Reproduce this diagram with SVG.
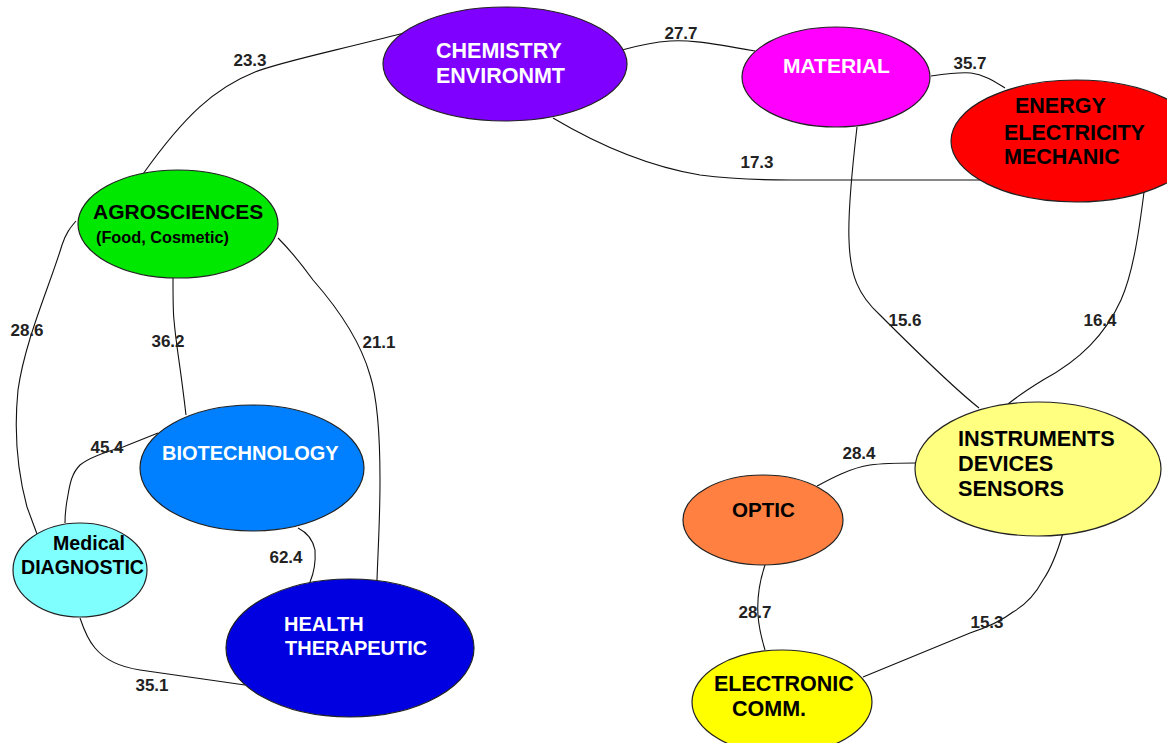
<svg xmlns="http://www.w3.org/2000/svg" width="1167" height="743" viewBox="0 0 1167 743">
  <style>
    .edge { fill: none; stroke: #111; stroke-width: 1.1; }
    .node ellipse { stroke: #222; stroke-width: 1.2; }
    .lbl { font-family: "Liberation Sans", Arial, sans-serif; font-size: 17px; font-weight: bold; fill: #222; text-anchor: middle; }
    .t { font-family: "Liberation Sans", Arial, sans-serif; font-weight: bold; }
    .w { fill: #fff; }
    .k { fill: #000; }
  </style>
  <rect width="1167" height="743" fill="#fff"/>

  <!-- connectors with their weights -->
  <g id="connectors">
    <path class="edge" d="M404,33 C330,52 280,62 255,72 C215,88 185,115 143,174"/>
    <path class="edge" d="M622,50 C640,45 655,42 670,41 C685,40 700,41 755,51"/>
    <path class="edge" d="M931,76 C945,74 960,72 971,73 C985,75 995,82 1005,88"/>
    <path class="edge" d="M553,118 C590,140 640,165 700,175 C740,180 770,180 790,180 L980,180"/>
    <path class="edge" d="M857,127 C852,170 848,215 849,240 C850,275 858,295 880,315 C910,345 950,385 979,408"/>
    <path class="edge" d="M1144,192 C1138,240 1132,275 1121,300 C1105,335 1080,360 1043,380 C1030,388 1018,396 1008,404"/>
    <path class="edge" d="M76,221 C70,228 66,233 62,245 C50,285 25,340 18,390 C14,430 17,470 27,507 L37,534"/>
    <path class="edge" d="M173,278 C173,300 173,313 174,320 C176,345 180,363 186,415"/>
    <path class="edge" d="M278,238 C290,250 300,262 313,280 C335,305 360,340 370,375 C378,400 380,440 380,480 C380,520 378,550 377,580"/>
    <path class="edge" d="M158,433 L123,447 C105,452 90,457 80,465 C72,473 70,483 68,495 C66,505 65,515 65,523"/>
    <path class="edge" d="M298,528 C308,533 313,540 315,550 C316,565 313,575 310,582"/>
    <path class="edge" d="M80,618 C84,630 88,640 95,648 C105,660 120,667 140,670 L245,685"/>
    <path class="edge" d="M817,486 C830,479 850,468 870,465 C885,463 900,463 915,463"/>
    <path class="edge" d="M765,565 C760,580 757,600 758,615 C759,630 762,640 765,650"/>
    <path class="edge" d="M1063,533 C1058,550 1050,570 1043,580 C1035,595 1025,605 1013,612 C1000,622 985,628 970,633 L863,677"/>
    <text class="lbl" x="250" y="66">23.3</text>
    <text class="lbl" x="681" y="39">27.7</text>
    <text class="lbl" x="970" y="69">35.7</text>
    <text class="lbl" x="757" y="168">17.3</text>
    <text class="lbl" x="905" y="326">15.6</text>
    <text class="lbl" x="1100" y="326">16.4</text>
    <text class="lbl" x="27" y="336">28.6</text>
    <text class="lbl" x="168" y="347">36.2</text>
    <text class="lbl" x="379" y="348">21.1</text>
    <text class="lbl" x="107" y="453">45.4</text>
    <text class="lbl" x="286" y="563">62.4</text>
    <text class="lbl" x="152" y="691">35.1</text>
    <text class="lbl" x="859" y="459">28.4</text>
    <text class="lbl" x="755" y="618">28.7</text>
    <text class="lbl" x="987" y="628">15.3</text>
  </g>

  <g id="chemistry" class="node">
    <ellipse cx="505" cy="64" rx="122" ry="57" fill="#7F00FF"/>
    <text class="t w" x="436" y="58" font-size="21.5">CHEMISTRY</text>
    <text class="t w" x="436" y="83" font-size="21.5">ENVIRONMT</text>
  </g>
  <g id="material" class="node">
    <ellipse cx="836" cy="77" rx="94" ry="50" fill="#FF00FF"/>
    <text class="t w" x="783" y="73" font-size="21">MATERIAL</text>
  </g>
  <g id="energy" class="node">
    <ellipse cx="1076" cy="141" rx="125" ry="61" fill="#FF0000"/>
    <text class="t k" x="1015" y="113" font-size="21.5">ENERGY</text>
    <text class="t k" x="1004" y="140" font-size="21.5">ELECTRICITY</text>
    <text class="t k" x="1004" y="164" font-size="21.5">MECHANIC</text>
  </g>
  <g id="agrosciences" class="node">
    <ellipse cx="178" cy="224" rx="100" ry="54" fill="#00E800"/>
    <text class="t k" x="93" y="219" font-size="21">AGROSCIENCES</text>
    <text class="t k" x="96" y="243" font-size="16.3">(Food, Cosmetic)</text>
  </g>
  <g id="biotechnology" class="node">
    <ellipse cx="252" cy="468" rx="112" ry="63" fill="#0080FF"/>
    <text class="t w" x="162" y="460" font-size="20">BIOTECHNOLOGY</text>
  </g>
  <g id="medical" class="node">
    <ellipse cx="80" cy="570" rx="67" ry="47" fill="#80FFFF"/>
    <text class="t k" x="53" y="550" font-size="19.6">Medical</text>
    <text class="t k" x="21" y="574" font-size="19.6">DIAGNOSTIC</text>
  </g>
  <g id="health" class="node">
    <ellipse cx="350" cy="648" rx="124" ry="69" fill="#0000E0"/>
    <text class="t w" x="284" y="631" font-size="20">HEALTH</text>
    <text class="t w" x="285" y="655" font-size="20">THERAPEUTIC</text>
  </g>
  <g id="instruments" class="node">
    <ellipse cx="1038" cy="469" rx="123" ry="67" fill="#FFFF80"/>
    <text class="t k" x="958" y="446" font-size="21.7">INSTRUMENTS</text>
    <text class="t k" x="958" y="471" font-size="21.7">DEVICES</text>
    <text class="t k" x="958" y="496" font-size="21.7">SENSORS</text>
  </g>
  <g id="optic" class="node">
    <ellipse cx="763" cy="520" rx="80" ry="45" fill="#FF8040"/>
    <text class="t k" x="732" y="517" font-size="20.6">OPTIC</text>
  </g>
  <g id="electronic" class="node">
    <ellipse cx="782" cy="702" rx="90" ry="52" fill="#FFFF00"/>
    <text class="t k" x="714" y="691" font-size="21.5">ELECTRONIC</text>
    <text class="t k" x="732" y="716" font-size="21.5">COMM.</text>
  </g>
</svg>
